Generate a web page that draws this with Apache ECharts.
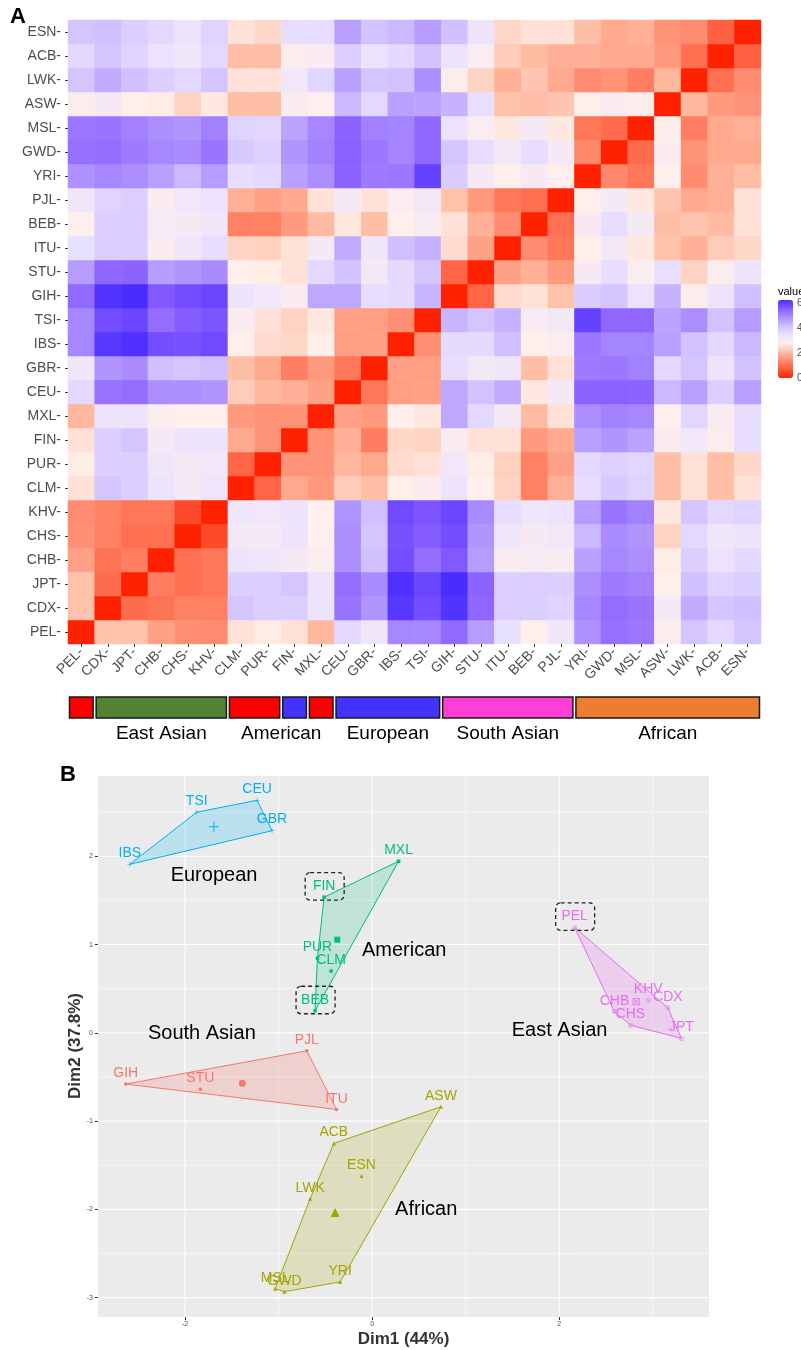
<!DOCTYPE html>
<html><head><meta charset="utf-8">
<script src="https://cdn.jsdelivr.net/npm/echarts@6/dist/echarts.min.js"></script>
<style>html,body{margin:0;padding:0;background:#fff}#c{width:801px;height:1350px}</style>
</head><body><div id="c"></div>
<script>
// ---------------- DATA ----------------
// Panel A: population order (x axis left->right, y axis bottom->top)
const pops = ['PEL','CDX','JPT','CHB','CHS','KHV','CLM','PUR','FIN','MXL','CEU','GBR','IBS','TSI','GIH','STU','ITU','BEB','PJL','YRI','GWD','MSL','ASW','LWK','ACB','ESN'];
// lower triangle of the symmetric distance matrix (row i: values vs pops[0..i-1]); diagonal is 0
const distLower = [
  [],
  [2.15],
  [2.15,0.95],
  [1.7,1.05,1.2],
  [1.45,1.25,1.0,1.0],
  [1.4,1.25,1.1,1.1,0.5],
  [2.6,4.1,3.9,3.4,3.15,3.35],
  [2.75,3.9,3.9,3.3,3.15,3.25,0.85],
  [2.6,3.9,4.1,3.15,3.4,3.4,1.8,1.5],
  [2.0,3.4,3.4,2.95,2.85,2.85,1.6,1.5,1.5],
  [3.7,5.3,5.4,4.9,4.9,4.8,2.3,2.0,1.9,1.7],
  [3.3,4.8,4.95,4.2,4.1,4.2,2.1,1.8,1.2,1.6,1.1],
  [5.0,6.15,6.25,5.85,5.8,5.9,2.8,2.5,2.45,2.85,1.65,1.7],
  [5.0,5.85,5.95,5.4,5.65,5.75,3.0,2.6,2.4,2.7,1.7,1.65,1.45],
  [5.45,6.2,6.3,5.7,5.85,5.95,3.4,3.25,3.0,4.55,4.55,3.6,3.65,4.35],
  [4.7,5.5,5.55,4.7,4.8,4.95,2.85,2.75,2.6,3.7,4.15,3.2,3.65,4.1,0.85],
  [3.55,3.9,3.9,3.0,3.3,3.6,2.4,2.35,2.6,3.15,4.5,3.3,4.2,4.4,2.5,1.7],
  [2.85,3.9,3.9,3.05,3.1,3.3,1.25,1.25,1.6,2.05,2.7,2.1,2.8,3.05,2.6,1.9,1.4],
  [3.3,3.8,3.9,3.0,3.25,3.45,1.9,1.7,1.8,2.6,3.15,2.6,2.95,3.2,2.15,1.6,1.1,1.0],
  [4.85,5.0,4.9,4.65,4.3,4.7,3.6,3.7,4.65,4.9,5.55,5.2,5.25,6.0,3.95,3.1,2.8,3.1,2.85],
  [5.35,5.4,5.2,5.0,4.95,5.3,4.0,3.85,4.8,5.1,5.6,5.25,5.05,5.5,4.1,3.6,3.2,3.6,3.15,1.35],
  [5.25,5.3,5.1,4.9,4.8,5.1,3.8,3.75,4.6,5.0,5.55,5.1,5.05,5.5,3.5,2.95,2.7,3.15,2.7,1.1,0.95],
  [2.9,3.15,2.8,2.75,2.4,2.7,2.1,2.1,3.0,2.85,4.3,3.7,4.65,4.6,4.4,3.55,2.15,2.1,2.2,2.85,3.0,2.9],
  [4.1,4.5,4.2,3.9,3.7,4.1,2.6,2.6,3.25,3.75,4.65,4.1,4.15,4.9,2.9,2.4,1.9,2.2,1.8,1.4,1.5,1.2,2.0],
  [3.7,4.1,3.8,3.5,3.3,3.7,2.1,2.1,2.9,3.0,3.9,3.4,3.7,4.15,3.4,2.95,2.3,2.05,1.9,1.9,1.8,1.8,1.6,1.0],
  [4.1,4.2,3.9,3.7,3.4,3.8,2.6,2.45,3.6,3.6,4.65,4.15,4.3,4.7,4.2,3.4,2.45,2.6,2.6,2.1,1.8,1.9,1.5,1.4,0.8]
];
const legendTicks = [6,4,2,0];
// super-population colour bar under the heatmap
const barSegStart = ['PEL','CDX','CLM','FIN','MXL','CEU','GIH','YRI'];
const barSegEnd   = ['PEL','KHV','PUR','FIN','MXL','TSI','PJL','ESN'];
const barSegSuper = ['AMR','EAS','AMR','EUR','AMR','EUR','SAS','AFR'];
const barLabelText  = ['East Asian','American','European','South Asian','African'];
const barLabelStart = ['CDX','CLM','CEU','GIH','YRI'];
const barLabelEnd   = ['KHV','MXL','TSI','PJL','ESN'];

// Panel B: PCA coordinates
const pcaPops = ['IBS','TSI','CEU','GBR','FIN','MXL','PUR','CLM','BEB','PEL','KHV','CDX','JPT','CHS','CHB','GIH','STU','ITU','PJL','ACB','ESN','LWK','YRI','MSL','GWD','ASW'];
const pcaDim1 = [-2.59,-1.875,-1.23,-1.07,-0.513,0.282,-0.585,-0.438,-0.61,2.164,2.95,3.16,3.305,2.76,2.59,-2.634,-1.836,-0.381,-0.698,-0.41,-0.114,-0.663,-0.342,-1.037,-0.938,0.735];
const pcaDim2 = [1.91,2.50,2.635,2.29,1.537,1.944,0.846,0.70,0.25,1.194,0.37,0.283,-0.063,0.087,0.238,-0.581,-0.638,-0.868,-0.204,-1.253,-1.623,-1.88,-2.823,-2.9,-2.933,-0.838];
const pcaCluster = ['European','European','European','European','American','American','American','American','American','East Asian','East Asian','East Asian','East Asian','East Asian','East Asian','South Asian','South Asian','South Asian','South Asian','African','African','African','African','African','African','African'];
const clusterNames = ['European','American','East Asian','South Asian','African'];
const highlighted = ['FIN','BEB','PEL'];
const xTicks = [-2,0,2];
const yTicks = [-3,-2,-1,0,1,2];
const xMinorTicks = [-1,1,3];
const yMinorTicks = [-2.5,-1.5,-0.5,0.5,1.5,2.5];

// ---------------- LAYOUT / STYLE ----------------
const FONT = "'Liberation Sans', Arial, Helvetica, sans-serif";
const VMAX = 6.3;
const visStops = ['#FF2200','#FF5A3A','#FF8C70','#FFBEA6','#FFEFEA','#EAE2FF','#D0C0FF','#AC8EFF','#8A60FF','#4A2CFF'];
const superColor = {AMR:'#FF0000', EAS:'#548235', EUR:'#4433FF', SAS:'#FF3ED6', AFR:'#ED7D31'};
const PLUS = 'path://M9,0h2v9h9v2h-9v9h-2v-9h-9v-2h9z';
const BOXX = 'path://M0,0L20,0L20,20L0,20Z M2,2L2,18L18,18L18,2Z M2,3.4L3.4,2L18,16.6L16.6,18Z M16.6,2L18,3.4L3.4,18L2,16.6Z';
const clusterStyle = {
  'European':   {color:'#00B0F6', fill:'rgba(0,176,246,0.2)',   symbol:PLUS,      size:5,   csize:10},
  'American':   {color:'#00BF7D', fill:'rgba(0,191,125,0.18)',  symbol:'rect',    size:3.5, csize:6},
  'East Asian': {color:'#E76BF3', fill:'rgba(231,107,243,0.22)',symbol:BOXX,      size:4,   csize:7},
  'South Asian':{color:'#F8766D', fill:'rgba(248,118,109,0.22)',symbol:'circle',  size:3.5, csize:7},
  'African':    {color:'#A3A500', fill:'rgba(163,165,0,0.18)',  symbol:'triangle',size:4,   csize:9}
};
const clusterLabelAt = {'European':[-1.69,1.785],'American':[0.342,0.937],'East Asian':[2.003,0.03],'South Asian':[-1.82,-0.007],'African':[0.578,-2.0]};

// ---------------- BUILD ----------------
const N = pops.length;
const idx = p => pops.indexOf(p);
const heatData = [];
for (let i = 0; i < N; i++) for (let j = 0; j < N; j++) {
  const v = i === j ? 0 : (i > j ? distLower[i][j] : distLower[j][i]);
  heatData.push([j, i, v]);
}
function convexHull(pts) {
  const p = pts.slice().sort((a,b)=>a[0]-b[0]||a[1]-b[1]);
  const cross=(o,a,b)=>(a[0]-o[0])*(b[1]-o[1])-(a[1]-o[1])*(b[0]-o[0]);
  const lo=[]; for (const q of p){while(lo.length>=2&&cross(lo[lo.length-2],lo[lo.length-1],q)<=0)lo.pop();lo.push(q);}
  const up=[]; for (const q of p.slice().reverse()){while(up.length>=2&&cross(up[up.length-2],up[up.length-1],q)<=0)up.pop();up.push(q);}
  lo.pop(); up.pop(); return lo.concat(up);
}
const members = {};
clusterNames.forEach(c => members[c] = pcaPops.map((p,k)=>k).filter(k => pcaCluster[k] === c));
const hulls = clusterNames.map(c => convexHull(members[c].map(k => [pcaDim1[k], pcaDim2[k]])));
const centroids = clusterNames.map(c => {
  const m = members[c];
  return [m.reduce((s,k)=>s+pcaDim1[k],0)/m.length, m.reduce((s,k)=>s+pcaDim2[k],0)/m.length];
});

const series = [];
series.push({type:'heatmap', xAxisIndex:0, yAxisIndex:0, data:heatData, emphasis:{disabled:true}, progressive:0, itemStyle:{borderWidth:0}});
// colour bar
series.push({type:'custom', xAxisIndex:1, yAxisIndex:1, silent:true,
  data: barSegStart.map((s,i)=>[idx(s), idx(barSegEnd[i]), i]),
  renderItem(params, api){
    const cs = params.coordSys; const bw = api.size([1,0])[0];
    const i = params.dataIndex;
    const x0 = api.coord([idx(barSegStart[i]),0])[0] - bw/2 + 1.5;
    const x1 = api.coord([idx(barSegEnd[i]),0])[0] + bw/2 - 1.5;
    return {type:'rect', shape:{x:x0, y:cs.y, width:x1-x0, height:cs.height},
      style:{fill:superColor[barSegSuper[i]], stroke:'#1a1a1a', lineWidth:1.5}};
  }});
series.push({type:'custom', xAxisIndex:1, yAxisIndex:1, silent:true,
  data: barLabelText.map((t,i)=>[idx(barLabelStart[i]), idx(barLabelEnd[i]), i]),
  renderItem(params, api){
    const cs = params.coordSys; const i = params.dataIndex;
    const xa = api.coord([idx(barLabelStart[i]),0])[0], xb = api.coord([idx(barLabelEnd[i]),0])[0];
    return {type:'text', style:{text:barLabelText[i], x:(xa+xb)/2, y:cs.y+cs.height+16, align:'center', verticalAlign:'middle',
      fontSize:19, fontFamily:FONT, fill:'#000'}};
  }});
// PCA gridlines
const gridLines = [].concat(
  xMinorTicks.map(v=>[v,0,0]), yMinorTicks.map(v=>[v,1,0]),
  xTicks.map(v=>[v,0,1]), yTicks.map(v=>[v,1,1]));
series.push({type:'custom', xAxisIndex:2, yAxisIndex:2, silent:true, z:1,
  data: gridLines.map((g,i)=>[g[0], 0, i]),
  renderItem(params, api){
    const cs = params.coordSys; const g = gridLines[params.dataIndex];
    const w = g[2] ? 1.1 : 0.55;
    if (g[1] === 0) { const x = api.coord([g[0],0])[0];
      return {type:'line', shape:{x1:x,y1:cs.y,x2:x,y2:cs.y+cs.height}, style:{stroke:'#FFFFFF', lineWidth:w}}; }
    const y = api.coord([0,g[0]])[1];
    return {type:'line', shape:{x1:cs.x,y1:y,x2:cs.x+cs.width,y2:y}, style:{stroke:'#FFFFFF', lineWidth:w}};
  }});
// hulls
series.push({type:'custom', xAxisIndex:2, yAxisIndex:2, silent:true, z:2,
  data: clusterNames.map((c,i)=>[centroids[i][0], centroids[i][1]]),
  renderItem(params, api){
    const c = clusterNames[params.dataIndex]; const st = clusterStyle[c];
    const pts = hulls[params.dataIndex].map(p=>api.coord(p));
    return {type:'polygon', shape:{points:pts}, style:{fill:st.fill, stroke:st.color, lineWidth:1}};
  }});
// cluster name annotations
series.push({type:'custom', xAxisIndex:2, yAxisIndex:2, silent:true, z:6,
  data: clusterNames.map(c=>clusterLabelAt[c]),
  renderItem(params, api){
    const p = api.coord([api.value(0), api.value(1)]);
    return {type:'text', style:{text:clusterNames[params.dataIndex], x:p[0], y:p[1], align:'center', verticalAlign:'middle', fontSize:20, fontFamily:FONT, fill:'#000'}};
  }});
// dashed boxes
series.push({type:'custom', xAxisIndex:2, yAxisIndex:2, silent:true, z:6,
  data: highlighted.map(n=>{const k=pcaPops.indexOf(n); return [pcaDim1[k], pcaDim2[k]];}),
  renderItem(params, api){
    const p = api.coord([api.value(0), api.value(1)]);
    return {type:'rect', shape:{x:p[0]-19, y:p[1]-24.5, width:39, height:27.5, r:5},
      style:{fill:'none', stroke:'#222', lineWidth:1.3, lineDash:[4,3]}};
  }});
// points + centroids
clusterNames.forEach((c,ci)=>{
  const st = clusterStyle[c];
  series.push({type:'scatter', xAxisIndex:2, yAxisIndex:2, silent:true, z:5,
    symbol:st.symbol, symbolSize:st.size, itemStyle:{color:st.color, opacity:1},
    emphasis:{disabled:true},
    data: members[c].map(k=>({name:pcaPops[k], value:[pcaDim1[k], pcaDim2[k]]})),
    label:{show:true, position:'top', distance:2, formatter:'{b}', color:st.color, fontSize:14, fontFamily:FONT}
  });
  series.push({type:'scatter', xAxisIndex:2, yAxisIndex:2, silent:true, z:5,
    symbol:st.symbol, symbolSize:st.csize, itemStyle:{color:st.color, opacity:1},
    emphasis:{disabled:true}, data:[centroids[ci]]});
});

const legendTop = 300, legendH = 78;
const graphic = [
  {type:'text', left:10, top:6, style:{text:'A', fontSize:22, fontWeight:'bold', fontFamily:FONT, fill:'#000'}},
  {type:'text', left:60, top:764, style:{text:'B', fontSize:22, fontWeight:'bold', fontFamily:FONT, fill:'#000'}},
  {type:'text', left:778, top:286, style:{text:'value', fontSize:11, fontFamily:FONT, fill:'#000'}},
  {type:'text', x:75, y:1046, rotation:Math.PI/2,
   style:{text:'Dim2 (37.8%)', align:'center', verticalAlign:'middle', fontSize:17, fontWeight:'bold', fontFamily:FONT, fill:'#333'}}
].concat(legendTicks.map(t=>({type:'text', x:797, y:legendTop + legendH - t/VMAX*legendH,
   style:{text:String(t), fontSize:10, fontFamily:FONT, fill:'#4D4D4D', verticalAlign:'middle'}})));

const catAxisLabel = {fontSize:14, color:'#4D4D4D', fontFamily:FONT, formatter:v=>v+'-', interval:0};
const option = {
  backgroundColor:'#ffffff', animation:false,
  textStyle:{fontFamily:FONT},
  grid:[
    {left:68, top:20, width:693, height:624, outerBoundsMode:'none'},
    {left:68, top:697, width:693, height:21, outerBoundsMode:'none'},
    {left:98, top:776, width:611, height:541, show:true, backgroundColor:'#EBEBEB', borderWidth:0, outerBoundsMode:'none'}
  ],
  xAxis:[
    {gridIndex:0, type:'category', data:pops, axisLine:{show:false}, splitLine:{show:false},
     axisTick:{show:true, alignWithLabel:true, interval:0, length:3, lineStyle:{color:'#333'}},
     axisLabel:Object.assign({rotate:45, margin:6}, catAxisLabel)},
    {gridIndex:1, type:'category', data:pops, show:false},
    {gridIndex:2, type:'value', min:-2.93, max:3.6, splitLine:{show:false}, axisLine:{show:false, onZero:false},
     axisTick:{show:true, customValues:xTicks, length:3, lineStyle:{color:'#333'}},
     axisLabel:{customValues:xTicks, fontSize:7, color:'#4D4D4D', margin:4, fontFamily:FONT},
     name:'Dim1 (44%)', nameLocation:'middle', nameGap:14,
     nameTextStyle:{fontSize:17, fontWeight:'bold', color:'#333', fontFamily:FONT}}
  ],
  yAxis:[
    {gridIndex:0, type:'category', data:pops, axisLine:{show:false}, splitLine:{show:false},
     axisTick:{show:true, alignWithLabel:true, interval:0, length:3, lineStyle:{color:'#333'}},
     axisLabel:Object.assign({margin:7}, catAxisLabel)},
    {gridIndex:1, type:'value', min:0, max:1, show:false},
    {gridIndex:2, type:'value', min:-3.22, max:2.91, splitLine:{show:false}, axisLine:{show:false, onZero:false},
     axisTick:{show:true, customValues:yTicks, length:3, lineStyle:{color:'#333'}},
     axisLabel:{customValues:yTicks, fontSize:7, color:'#4D4D4D', margin:5, fontFamily:FONT}}
  ],
  visualMap:{type:'continuous', seriesIndex:0, min:0, max:VMAX, inRange:{color:visStops},
    left:778, top:legendTop, itemWidth:15, itemHeight:legendH, calculable:false, padding:0, showLabel:false, text:null},
  graphic:graphic,
  series:series
};
const chart = echarts.init(document.getElementById('c'), null, {renderer:'canvas', width:801, height:1350});
chart.setOption(option);
</script></body></html>
